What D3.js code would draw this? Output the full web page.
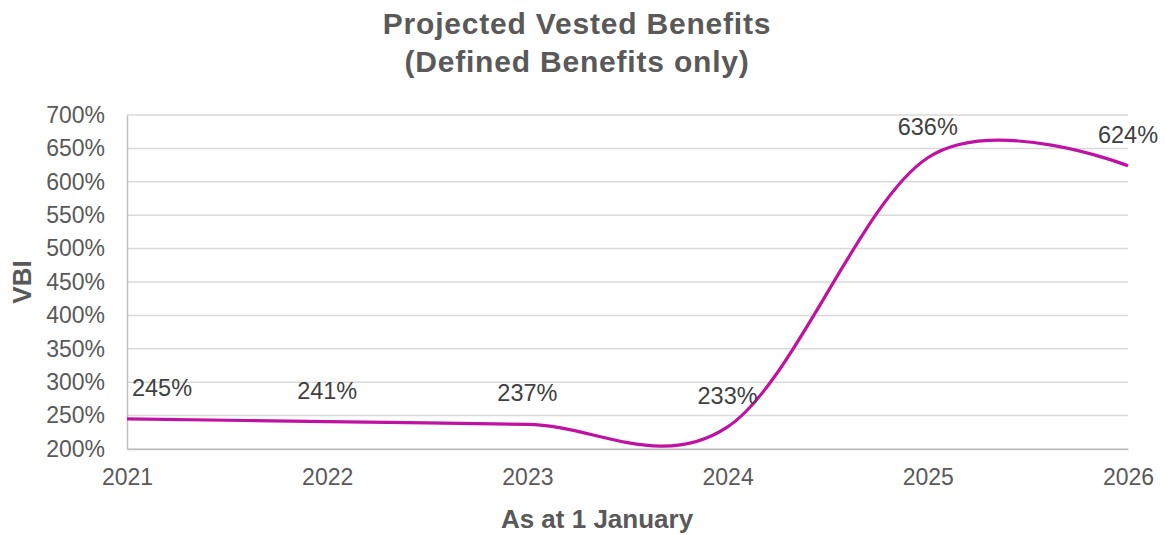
<!DOCTYPE html>
<html>
<head>
<meta charset="utf-8">
<script src="https://cdn.jsdelivr.net/npm/d3@7"></script>
<style>
  body { margin: 0; background: #fff; }
  svg { font-family: "Liberation Sans", Arial, sans-serif; }
</style>
</head>
<body>
<svg id="chart" width="1165" height="535"></svg>
<script>
// data
const years = [2021, 2022, 2023, 2024, 2025, 2026];
const vbi = [245, 241, 237, 233, 636, 624];
const yTicks = [200, 250, 300, 350, 400, 450, 500, 550, 600, 650, 700];

const svg = d3.select("#chart"),
      margin = { top: 115, right: 37, bottom: 86, left: 127 },
      width = +svg.attr("width") - margin.left - margin.right,
      height = +svg.attr("height") - margin.top - margin.bottom;

const g = svg.append("g")
  .attr("transform", `translate(${margin.left},${margin.top})`);

const x = d3.scaleLinear().domain([2021, 2026]).range([0, width]);
const y = d3.scaleLinear().domain([200, 700]).range([height, 0]);

// gridlines
g.append("g")
  .selectAll("line")
  .data(yTicks)
  .enter().append("line")
  .attr("x1", 0)
  .attr("x2", width)
  .attr("y1", d => y(d))
  .attr("y2", d => y(d))
  .attr("stroke", "#d9d9d9")
  .attr("stroke-width", 1.5);

// axes
const yAxis = g.append("g")
  .call(d3.axisLeft(y).tickValues(yTicks).tickSize(0).tickPadding(22).tickFormat(d => d + "%"));
yAxis.select(".domain").attr("stroke", "#bfbfbf").attr("stroke-width", 1.5);
yAxis.selectAll("text").attr("font-size", "23px").attr("fill", "#595959");

const xAxis = g.append("g")
  .attr("transform", `translate(0,${height})`)
  .call(d3.axisBottom(x).tickValues(years).tickSize(0).tickPadding(20).tickFormat(d3.format("d")));
xAxis.select(".domain").attr("stroke", "#bfbfbf").attr("stroke-width", 1.5);
xAxis.selectAll("text").attr("font-size", "23px").attr("fill", "#595959");

// smoothed line
const line = d3.line()
  .x((d, i) => x(years[i]))
  .y(d => y(d))
  .curve(d3.curveCardinal.tension(0));

g.append("path")
  .datum(vbi)
  .attr("d", line)
  .attr("fill", "none")
  .attr("stroke", "#c012a2")
  .attr("stroke-width", 3.2);

// data labels (kept inside the plot area like excel does)
g.append("g")
  .selectAll("text")
  .data(vbi)
  .enter().append("text")
  .attr("x", (d, i) => Math.max(x(years[i]), 35))
  .attr("y", d => y(d) - 23)
  .attr("text-anchor", "middle")
  .attr("font-size", "23.5px")
  .attr("fill", "#404040")
  .text(d => d + "%");

// title
const title = svg.append("text")
  .attr("text-anchor", "middle")
  .attr("font-size", "30px")
  .attr("font-weight", "bold")
  .attr("letter-spacing", "0.8px")
  .attr("fill", "#595959");
title.append("tspan").attr("x", 577).attr("y", 34).text("Projected Vested Benefits");
title.append("tspan").attr("x", 577).attr("y", 72).text("(Defined Benefits only)");

// axis titles
svg.append("text")
  .attr("x", 597)
  .attr("y", 528)
  .attr("text-anchor", "middle")
  .attr("font-size", "26px")
  .attr("font-weight", "bold")
  .attr("fill", "#595959")
  .text("As at 1 January");

svg.append("text")
  .attr("transform", "rotate(-90)")
  .attr("x", -282)
  .attr("y", 31)
  .attr("text-anchor", "middle")
  .attr("font-size", "26px")
  .attr("font-weight", "bold")
  .attr("fill", "#595959")
  .text("VBI");
</script>
</body>
</html>
